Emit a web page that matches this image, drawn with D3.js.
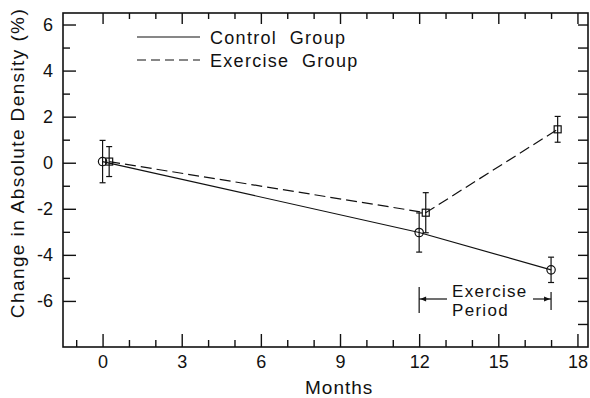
<!DOCTYPE html>
<html>
<head>
<meta charset="utf-8">
<script src="https://cdn.jsdelivr.net/npm/d3@7"></script>
<style>
  body { margin: 0; background: #fff; }
  svg { display: block; }
  text { font-family: "Liberation Sans", Arial, sans-serif; fill: #111; white-space: pre; }
  .axis text { font-size: 18px; }
  .axis line { stroke: #111; stroke-width: 1.4; }
</style>
</head>
<body>
<svg id="chart" width="590" height="398"></svg>
<script>
// data ----------------------------------------
var controlMonths = [0, 12, 17];
var controlMean = [0.05, -3.03, -4.65];
var controlErr = [0.92, 0.85, 0.55];

var exerciseMonths = [0.25, 12.25, 17.25];
var exerciseMean = [0.05, -2.17, 1.45];
var exerciseErr = [0.65, 0.87, 0.56];

var xTicks = [0, 3, 6, 9, 12, 15, 18];
var yTicks = [-6, -4, -2, 0, 2, 4, 6];
var legendLabels = ["Control  Group", "Exercise  Group"];
var periodStart = 12, periodEnd = 17;

// layout ----------------------------------------
var svg = d3.select("#chart");
var width = 590, height = 398;
var margin = {top: 13, right: 2, bottom: 51, left: 63};

var x = d3.scaleLinear().domain([-1.5, 18.4]).range([margin.left, width - margin.right]);
var y = d3.scaleLinear().domain([-8, 6.5]).range([height - margin.bottom, margin.top]);

var ink = "#111";

// frame
svg.append("rect")
  .attr("x", x.range()[0]).attr("y", y.range()[1])
  .attr("width", x.range()[1] - x.range()[0])
  .attr("height", y.range()[0] - y.range()[1])
  .attr("fill", "none").attr("stroke", ink).attr("stroke-width", 1.6);

function cleanAxis(g) { g.select(".domain").remove(); }

var monthsAll = d3.range(-1, 19);
var minorX = monthsAll.filter(function(d) { return d % 3 !== 0; });
var minorY = [-5, -3, -1, 1, 3, 5];

// bottom axis
svg.append("g").attr("class", "axis")
  .attr("transform", "translate(0," + y.range()[0] + ")")
  .call(d3.axisBottom(x).tickValues(xTicks).tickSize(-13).tickPadding(8).tickFormat(d3.format("d")))
  .call(cleanAxis);
svg.append("g").attr("class", "axis")
  .attr("transform", "translate(0," + y.range()[0] + ")")
  .call(d3.axisBottom(x).tickValues(minorX).tickSize(-7).tickFormat(""))
  .call(cleanAxis);

// top axis
svg.append("g").attr("class", "axis")
  .attr("transform", "translate(0," + y.range()[1] + ")")
  .call(d3.axisTop(x).tickValues(xTicks).tickSize(-11).tickFormat(""))
  .call(cleanAxis);
svg.append("g").attr("class", "axis")
  .attr("transform", "translate(0," + y.range()[1] + ")")
  .call(d3.axisTop(x).tickValues(monthsAll.filter(function(d) { return d % 3 !== 0 && d > -1; })).tickSize(-6).tickFormat(""))
  .call(cleanAxis);

// left axis
svg.append("g").attr("class", "axis")
  .attr("transform", "translate(" + x.range()[0] + ",0)")
  .call(d3.axisLeft(y).tickValues(yTicks).tickSize(-13).tickPadding(10).tickFormat(function(d) { return String(d); }))
  .call(cleanAxis);
svg.append("g").attr("class", "axis")
  .attr("transform", "translate(" + x.range()[0] + ",0)")
  .call(d3.axisLeft(y).tickValues(minorY).tickSize(-7).tickFormat(""))
  .call(cleanAxis);

// right axis
svg.append("g").attr("class", "axis")
  .attr("transform", "translate(" + x.range()[1] + ",0)")
  .call(d3.axisRight(y).tickValues(d3.range(-7, 7)).tickSize(-10).tickFormat(""))
  .call(cleanAxis);

// axis titles
svg.append("text")
  .attr("x", 305).attr("y", 394)
  .style("font-size", "19px").style("letter-spacing", "1px")
  .text("Months");

svg.append("text")
  .attr("transform", "translate(24,163) rotate(-90)")
  .attr("text-anchor", "middle")
  .style("font-size", "19px").style("letter-spacing", "1.4px")
  .text("Change in Absolute Density (%)");

// series ----------------------------------------
var controlData = controlMonths.map(function(m, i) { return {m: m, v: controlMean[i], e: controlErr[i]}; });
var exerciseData = exerciseMonths.map(function(m, i) { return {m: m, v: exerciseMean[i], e: exerciseErr[i]}; });

var line = d3.line().x(function(d) { return x(d.m); }).y(function(d) { return y(d.v); });

svg.append("path").datum(controlData)
  .attr("d", line).attr("fill", "none").attr("stroke", ink).attr("stroke-width", 1.2);
svg.append("path").datum(exerciseData)
  .attr("d", line).attr("fill", "none").attr("stroke", ink).attr("stroke-width", 1.2)
  .attr("stroke-dasharray", "11,5");

function errorBars(data) {
  var g = svg.append("g").attr("stroke", ink).attr("stroke-width", 1.2);
  data.forEach(function(d) {
    var cx = x(d.m);
    g.append("line").attr("x1", cx).attr("x2", cx).attr("y1", y(d.v + d.e)).attr("y2", y(d.v - d.e));
    g.append("line").attr("x1", cx - 3).attr("x2", cx + 3).attr("y1", y(d.v + d.e)).attr("y2", y(d.v + d.e));
    g.append("line").attr("x1", cx - 3).attr("x2", cx + 3).attr("y1", y(d.v - d.e)).attr("y2", y(d.v - d.e));
  });
}
errorBars(controlData);
errorBars(exerciseData);

svg.append("g").selectAll("circle").data(controlData).enter().append("circle")
  .attr("cx", function(d) { return x(d.m); })
  .attr("cy", function(d) { return y(d.v); })
  .attr("r", 4.2).attr("fill", "none").attr("stroke", ink).attr("stroke-width", 1.2);

svg.append("g").selectAll("rect").data(exerciseData).enter().append("rect")
  .attr("x", function(d) { return x(d.m) - 3.5; })
  .attr("y", function(d) { return y(d.v) - 3.5; })
  .attr("width", 7).attr("height", 7)
  .attr("fill", "none").attr("stroke", ink).attr("stroke-width", 1.2);

// legend ----------------------------------------
var legend = svg.append("g");
legendLabels.forEach(function(label, i) {
  var ly = 37 + i * 23;
  legend.append("line")
    .attr("x1", 137).attr("x2", 200).attr("y1", ly).attr("y2", ly)
    .attr("stroke", ink).attr("stroke-width", 1.2)
    .attr("stroke-dasharray", i === 1 ? "9,5" : null);
  legend.append("text")
    .attr("x", 210).attr("y", ly + 7)
    .style("font-size", "18px").style("letter-spacing", "1.3px")
    .text(label);
});

// exercise period annotation ----------------------------------------
var ay = 299;
var ann = svg.append("g").attr("stroke", ink).attr("stroke-width", 1.2);
ann.append("line").attr("x1", x(periodStart)).attr("x2", x(periodStart)).attr("y1", 287).attr("y2", 313);
ann.append("line").attr("x1", x(periodEnd)).attr("x2", x(periodEnd)).attr("y1", 292).attr("y2", 310);
ann.append("line").attr("x1", x(periodStart)).attr("x2", 447).attr("y1", ay).attr("y2", ay);
ann.append("line").attr("x1", 533).attr("x2", x(periodEnd)).attr("y1", ay).attr("y2", ay);
svg.append("path")
  .attr("d", "M" + (x(periodStart) + 1) + "," + ay + "l6,-2.5v5z")
  .attr("fill", ink);
svg.append("path")
  .attr("d", "M" + (x(periodEnd) - 1) + "," + ay + "l-6,-2.5v5z")
  .attr("fill", ink);
svg.append("text").attr("x", 452).attr("y", 297)
  .style("font-size", "17px").style("letter-spacing", "1.3px").text("Exercise");
svg.append("text").attr("x", 452).attr("y", 316)
  .style("font-size", "17px").style("letter-spacing", "1.3px").text("Period");
</script>
</body>
</html>
